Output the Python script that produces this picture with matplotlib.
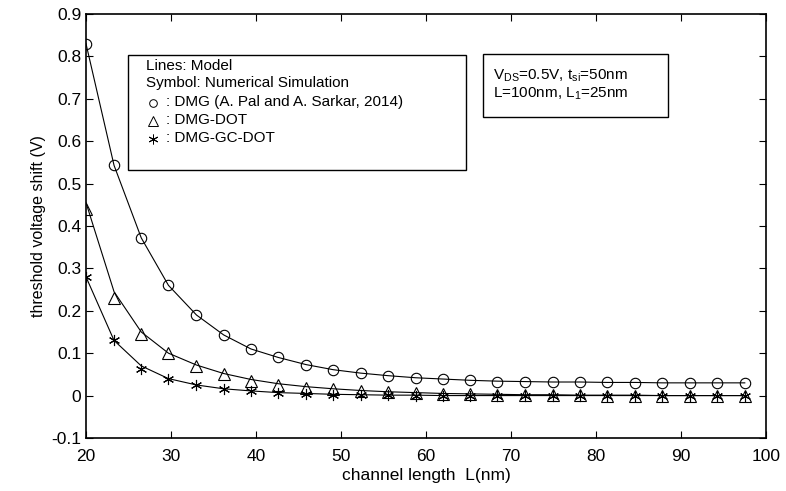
import numpy as np
import matplotlib
matplotlib.use("Agg")
import matplotlib.pyplot as plt
from matplotlib.patches import Rectangle

plt.rcParams['font.family'] = ['Liberation Sans', 'DejaVu Sans']
plt.rcParams['mathtext.fontset'] = 'custom'
plt.rcParams['mathtext.rm'] = 'Liberation Sans'

# channel length (nm)
L_nm = [20.0, 23.3, 26.5, 29.7, 33.0, 36.2, 39.4, 42.6, 45.9, 49.1, 52.3, 55.5,
        58.8, 62.0, 65.2, 68.4, 71.7, 74.9, 78.1, 81.3, 84.6, 87.8, 91.0, 94.2, 97.5]

# model lines
dmg_model = [0.83, 0.543, 0.372, 0.26, 0.19, 0.143, 0.11, 0.09, 0.073, 0.061, 0.053, 0.047,
             0.042, 0.039, 0.036, 0.034, 0.033, 0.032, 0.032, 0.031, 0.031, 0.030, 0.030, 0.030, 0.030]
dot_model = [0.455, 0.245, 0.15, 0.10, 0.072, 0.052, 0.038, 0.028, 0.021, 0.016, 0.012, 0.009,
             0.007, 0.005, 0.004, 0.003, 0.002, 0.002, 0.001, 0.001, 0.001, 0.0, 0.0, 0.0, 0.0]
gc_model = [0.28, 0.13, 0.07, 0.04, 0.025, 0.016, 0.011, 0.007, 0.005, 0.003, 0.002, 0.001,
            0.001, 0.0, 0.0, 0.0, 0.0, 0.0, 0.0, 0.0, 0.0, 0.0, 0.0, 0.0, 0.0]

# numerical simulation symbols
dmg_sim = [0.83, 0.543, 0.372, 0.26, 0.19, 0.143, 0.11, 0.09, 0.073, 0.06, 0.053, 0.046,
           0.041, 0.039, 0.036, 0.033, 0.033, 0.032, 0.032, 0.032, 0.030, 0.030, 0.030, 0.030, 0.030]
dot_sim = [0.44, 0.23, 0.145, 0.10, 0.07, 0.05, 0.035, 0.025, 0.018, 0.015, 0.01, 0.008,
           0.005, 0.004, 0.003, 0.002, 0.001, 0.001, 0.001, 0.0, 0.0, 0.0, 0.0, 0.0, 0.0]
gc_sim = [0.28, 0.13, 0.062, 0.04, 0.025, 0.015, 0.01, 0.007, 0.004, 0.002, 0.002, 0.001,
          0.0, 0.0, 0.0, 0.0, 0.0, 0.0, 0.0, 0.0, 0.0, 0.0, 0.0, 0.0, 0.0]

ytick_labels = ['-0.1', '0', '0.1', '0.2', '0.3', '0.4', '0.5', '0.6', '0.7', '0.8', '0.9']

fig = plt.figure(figsize=(7.86, 4.91), dpi=100)
ax = fig.add_axes([0.1094, 0.108, 0.8652, 0.8635])

lw = 0.8
for model in (dmg_model, dot_model, gc_model):
    ax.plot(L_nm, model, color='black', lw=lw)

asterisk = (6, 2, 0)
ax.plot(L_nm, dmg_sim, ls='none', marker='o', ms=7.5, mfc='none', mec='black', mew=0.8)
ax.plot(L_nm, dot_sim, ls='none', marker='^', ms=8.5, mfc='none', mec='black', mew=0.8)
ax.plot(L_nm, gc_sim, ls='none', marker=asterisk, ms=8, mfc='none', mec='black', mew=0.8)

ax.set_xlim(20, 100)
ax.set_ylim(-0.1, 0.9)
ax.set_xticks(np.arange(20, 101, 10))
ax.set_yticks(np.round(np.arange(-0.1, 0.91, 0.1), 1))
ax.set_yticklabels(ytick_labels)
ax.tick_params(direction='in', top=True, right=True, labelsize=12.5, length=5, width=0.8)
ax.tick_params(axis='x', pad=8)
for s in ax.spines.values():
    s.set_linewidth(1.2)

ax.set_xlabel('channel length  L(nm)', fontsize=12.5, labelpad=3)
ax.set_ylabel('threshold voltage shift (V)', fontsize=11.5, labelpad=4)

# legend box
tr = fig.transFigure
W, H = 786.0, 491.0
def fx(px):
    return px / W
def fy(py):
    return 1 - py / H

fig.patches.append(Rectangle((fx(128), fy(170)), fx(466) - fx(128), fy(55) - fy(170),
                             transform=tr, fill=True, fc='white', ec='black', lw=1.0, zorder=5))
fs = 11
fig.text(fx(146), fy(66), 'Lines: Model', fontsize=fs, va='center', zorder=6)
fig.text(fx(146), fy(83), 'Symbol: Numerical Simulation', fontsize=fs, va='center', zorder=6)
items = [('o', 5.5, ': DMG (A. Pal and A. Sarkar, 2014)'),
         ('^', 6.5, ': DMG-DOT'),
         (asterisk, 7, ': DMG-GC-DOT')]
for i, (m, ms, label) in enumerate(items):
    y = 102 + 18 * i
    fig.lines.append(plt.Line2D([fx(153)], [fy(y + 1)], transform=tr, marker=m, ms=ms,
                                mfc='none', mec='black', mew=0.7, ls='none', zorder=6))
    fig.text(fx(166), fy(y), label, fontsize=fs, va='center', zorder=6)

# parameter box
fig.patches.append(Rectangle((fx(483), fy(117)), fx(668) - fx(483), fy(54) - fy(117),
                             transform=tr, fill=True, fc='white', ec='black', lw=1.0, zorder=5))
fig.text(fx(493), fy(76), r'V$_{\mathrm{DS}}$=0.5V, t$_{\mathrm{si}}$=50nm', fontsize=fs,
         va='center', zorder=6)
fig.text(fx(493), fy(94), r'L=100nm, L$_{\mathrm{1}}$=25nm', fontsize=fs, va='center', zorder=6)

fig.savefig('out.png', dpi=100)
